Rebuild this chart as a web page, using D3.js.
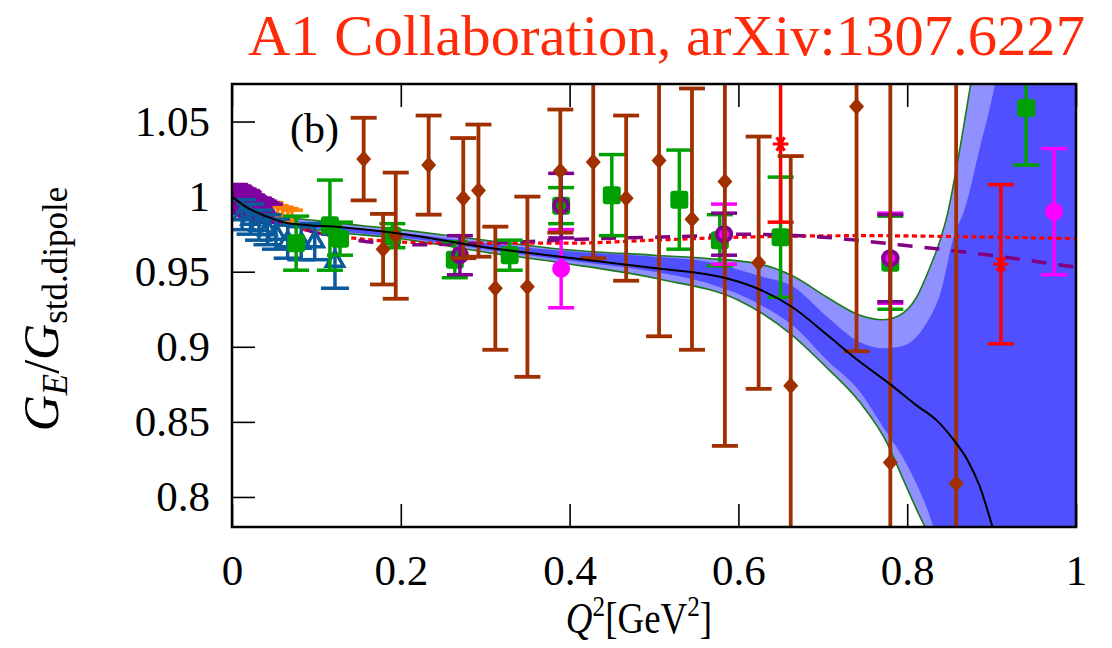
<!DOCTYPE html>
<html>
<head>
<meta charset="utf-8">
<script src="https://cdn.jsdelivr.net/npm/d3@7"></script>
<style>
  body { margin: 0; background: #fff; }
  text { font-family: "Liberation Serif", "Times New Roman", serif; }
</style>
</head>
<body>
<script>
// axis ticks
var xTicks = [0, 0.2, 0.4, 0.6, 0.8, 1],
    xTickLabels = ["0", "0.2", "0.4", "0.6", "0.8", "1"];
var yTicks = [0.8, 0.85, 0.9, 0.95, 1, 1.05],
    yTickLabels = ["0.8", "0.85", "0.9", "0.95", "1", "1.05"];

// fit curve (black) and its bands
var centerQ = [0, 0.017, 0.04, 0.061, 0.091, 0.123, 0.16, 0.223, 0.28, 0.389, 0.507, 0.554, 0.59, 0.626, 0.665, 0.705, 0.744, 0.78, 0.811, 0.835, 0.855, 0.872, 0.886, 0.9, 0.92];
var centerV = [1.0, 0.993, 0.987, 0.983, 0.981, 0.980, 0.978, 0.9735, 0.968, 0.960, 0.952, 0.949, 0.945, 0.938, 0.926, 0.908, 0.890, 0.875, 0.861, 0.851, 0.838, 0.824, 0.807, 0.782, 0.74];

var upOuterQ = [0, 0.02, 0.05, 0.1, 0.2, 0.3, 0.39, 0.5, 0.56, 0.626, 0.665, 0.705, 0.744, 0.771, 0.791, 0.81, 0.827, 0.839, 0.848, 0.858, 0.874, 0.885];
var upOuterV = [1.0, 0.994, 0.988, 0.984, 0.978, 0.971, 0.965, 0.961, 0.959, 0.955, 0.947, 0.933, 0.921, 0.918, 0.921, 0.932, 0.953, 0.971, 0.989, 1.018, 1.071, 1.11];
var upInnerQ = [0, 0.02, 0.05, 0.1, 0.2, 0.3, 0.39, 0.5, 0.56, 0.626, 0.665, 0.705, 0.744, 0.771, 0.791, 0.81, 0.823, 0.84, 0.854, 0.87, 0.885, 0.904, 0.915];
var upInnerV = [1.0, 0.994, 0.987, 0.982, 0.976, 0.969, 0.964, 0.960, 0.957, 0.947, 0.940, 0.920, 0.903, 0.899, 0.900, 0.906, 0.916, 0.937, 0.971, 0.995, 1.03, 1.075, 1.11];
var loInnerQ = [0, 0.02, 0.05, 0.1, 0.2, 0.3, 0.39, 0.5, 0.56, 0.626, 0.665, 0.705, 0.744, 0.771, 0.791, 0.81, 0.831, 0.845];
var loInnerV = [1.0, 0.992, 0.985, 0.979, 0.973, 0.965, 0.958, 0.950, 0.943, 0.928, 0.914, 0.891, 0.870, 0.847, 0.830, 0.81, 0.78, 0.75];
var loOuterQ = [0, 0.02, 0.05, 0.1, 0.2, 0.3, 0.389, 0.507, 0.6, 0.626, 0.661, 0.705, 0.744, 0.776, 0.795, 0.815, 0.821, 0.835];
var loOuterV = [1.0, 0.992, 0.984, 0.978, 0.972, 0.963, 0.956, 0.945, 0.931, 0.923, 0.909, 0.886, 0.863, 0.836, 0.812, 0.787, 0.78, 0.75];

// other fits
var redFitQ = [0, 0.05, 0.1, 0.15, 0.25, 0.4, 0.5, 0.6, 0.75, 0.9, 1.0];
var redFitV = [1.0, 0.985, 0.976, 0.972, 0.969, 0.969, 0.971, 0.973, 0.974, 0.973, 0.972];
var purpleFitQ = [0, 0.05, 0.1, 0.16, 0.22, 0.3, 0.43, 0.56, 0.6, 0.7, 0.79, 0.87, 1.0];
var purpleFitV = [1.0, 0.985, 0.976, 0.970, 0.968, 0.969, 0.972, 0.974, 0.975, 0.973, 0.968, 0.963, 0.953];

// data sets
var orangeQ = [0.003, 0.008, 0.013, 0.018, 0.024, 0.030, 0.036, 0.042, 0.048, 0.054, 0.060, 0.066, 0.071];
var orangeV = [1.000, 0.998, 0.996, 0.995, 0.993, 0.992, 0.991, 0.990, 0.990, 0.989, 0.988, 0.987, 0.986];
var orangeE = [0.008, 0.008, 0.007, 0.007, 0.007, 0.006, 0.006, 0.006, 0.006, 0.005, 0.005, 0.005, 0.005];

var purpQ = [0.003, 0.005, 0.007, 0.009, 0.011, 0.013, 0.015, 0.017, 0.019, 0.021, 0.023, 0.025, 0.027, 0.030, 0.033, 0.036, 0.039, 0.042, 0.046];
var purpV = [1.000, 1.000, 0.999, 0.999, 0.998, 0.997, 0.997, 0.996, 0.996, 0.995, 0.994, 0.994, 0.993, 0.992, 0.992, 0.991, 0.990, 0.990, 0.989];
var purpE = [0.008, 0.008, 0.008, 0.008, 0.008, 0.008, 0.008, 0.008, 0.008, 0.008, 0.007, 0.007, 0.007, 0.007, 0.007, 0.007, 0.007, 0.006, 0.006];

var blueQ = [0.012, 0.022, 0.032, 0.042, 0.052, 0.066, 0.082, 0.098, 0.122];
var blueV = [0.988, 0.985, 0.981, 0.978, 0.975, 0.970, 0.969, 0.970, 0.957];
var blueE = [0.010, 0.010, 0.010, 0.010, 0.010, 0.011, 0.011, 0.012, 0.018];

var greenQ = [0.076, 0.116, 0.128, 0.19, 0.264, 0.329, 0.39, 0.45, 0.53, 0.578, 0.65, 0.78, 0.941];
var greenV = [0.969, 0.981, 0.972, 0.974, 0.958, 0.961, 0.994, 1.001, 0.998, 0.971, 0.973, 0.956, 1.059];
var greenE = [0.018, 0.030, 0.011, 0.008, 0.012, 0.010, 0.012, 0.027, 0.033, 0.017, 0.040, 0.031, 0.038];

var magQ = [0.39, 0.583, 0.78, 0.974];
var magV = [0.952, 0.975, 0.959, 0.990];
var magE = [0.026, 0.020, 0.030, 0.042];

var ringQ = [0.27, 0.39, 0.583, 0.78];
var ringV = [0.961, 0.994, 0.975, 0.959];
var ringE = [0.013, 0.0215, 0.014, 0.029];

var starQ = [0.65, 0.911];
var starV = [1.035, 0.955];
var starE = [0.052, 0.053];

var brownQ = [0.156, 0.179, 0.194, 0.233, 0.274, 0.292, 0.312, 0.35, 0.389, 0.428, 0.467, 0.506, 0.545, 0.584, 0.624, 0.662, 0.74, 0.78, 0.858];
var brownV = [1.025, 0.965, 0.974, 1.021, 0.999, 1.004, 0.939, 0.940, 1.017, 1.023, 0.999, 1.024, 0.985, 1.010, 0.956, 0.874, 1.060, 0.823, 0.809];
var brownE = [0.0275, 0.0235, 0.042, 0.033, 0.040, 0.044, 0.041, 0.060, 0.041, 0.064, 0.055, 0.117, 0.087, 0.176, 0.084, 0.153, 0.163, 0.3, 0.3];

var width = 1112, height = 648;
var plotL = 232, plotR = 1076, plotT = 84, plotB = 527;

var svg = d3.select("body").append("svg")
    .attr("width", width)
    .attr("height", height);

var x = d3.scaleLinear().domain([0, 1]).range([plotL, plotR]);
var y = d3.scaleLinear().domain([0.78, 1.075]).range([plotB, plotT]);

svg.append("defs").append("clipPath").attr("id", "plot")
  .append("rect")
    .attr("x", plotL).attr("y", plotT)
    .attr("width", plotR - plotL).attr("height", plotB - plotT);

//ticks (inward, on all four sides)
function styleAxis(g) {
  g.select(".domain").remove();
  g.selectAll(".tick line").attr("stroke", "#000").attr("stroke-width", 1.6);
  g.selectAll(".tick text").attr("fill", "#000")
    .style("font-family", "'Liberation Serif', serif").style("font-size", "43px");
}
svg.append("g").attr("transform", "translate(0," + plotB + ")")
  .call(d3.axisBottom(x).tickValues(xTicks).tickSize(-23).tickPadding(27)
    .tickFormat(function(d, i) { return xTickLabels[i]; }))
  .call(styleAxis);
svg.append("g").attr("transform", "translate(0," + plotT + ")")
  .call(d3.axisTop(x).tickValues(xTicks).tickSize(-23).tickFormat(""))
  .call(styleAxis);
svg.append("g").attr("transform", "translate(" + plotL + ",0)")
  .call(d3.axisLeft(y).tickValues(yTicks).tickSize(-23).tickPadding(22)
    .tickFormat(function(d, i) { return yTickLabels[i]; }))
  .call(styleAxis);
svg.append("g").attr("transform", "translate(" + plotR + ",0)")
  .call(d3.axisRight(y).tickValues(yTicks).tickSize(-23).tickFormat(""))
  .call(styleAxis);

var plot = svg.append("g").attr("clip-path", "url(#plot)");

var smooth = d3.line().curve(d3.curveMonotoneX);
function pts(qs, vs) { return qs.map(function(q, i) { return [x(q), y(vs[i])]; }); }

//band between an upper and a lower curve, closed through the right side
function bandPath(uq, uv, lq, lv) {
  var lo = pts(lq, lv).reverse();
  return smooth(pts(uq, uv)) +
    "L" + x(1.05) + "," + y(1.2) +
    "L" + x(1.05) + "," + y(0.6) +
    smooth(lo).replace(/^M/, "L") + "Z";
}

plot.append("path")
  .attr("d", bandPath(upOuterQ, upOuterV, loOuterQ, loOuterV))
  .attr("fill", "#9090ff");
plot.append("path")
  .attr("d", bandPath(upInnerQ, upInnerV, loInnerQ, loInnerV))
  .attr("fill", "#5050ff");
[[upOuterQ, upOuterV], [loOuterQ, loOuterV]].forEach(function(c) {
  plot.append("path")
    .attr("d", smooth(pts(c[0], c[1])))
    .attr("fill", "none")
    .attr("stroke", "#1a7a1a")
    .attr("stroke-width", 1.6);
});

//other fits
plot.append("path")
  .attr("d", smooth(pts(redFitQ, redFitV)))
  .attr("fill", "none").attr("stroke", "#ff0000")
  .attr("stroke-width", 3.2).attr("stroke-dasharray", "5,3.5");
plot.append("path")
  .attr("d", smooth(pts(purpleFitQ, purpleFitV)))
  .attr("fill", "none").attr("stroke", "#800080")
  .attr("stroke-width", 3.5).attr("stroke-dasharray", "15,12");

//error bars with caps
function errBars(qs, vs, es, color, capHalf, lw) {
  var g = plot.append("g").attr("stroke", color).attr("stroke-width", lw).attr("fill", "none");
  qs.forEach(function(q, i) {
    var cx = x(q), y1 = y(vs[i] + es[i]), y2 = y(vs[i] - es[i]);
    g.append("line").attr("x1", cx).attr("x2", cx).attr("y1", y1).attr("y2", y2);
    g.append("line").attr("x1", cx - capHalf).attr("x2", cx + capHalf).attr("y1", y1).attr("y2", y1);
    g.append("line").attr("x1", cx - capHalf).attr("x2", cx + capHalf).attr("y1", y2).attr("y2", y2);
  });
}

//orange and purple points at low Q2
errBars(orangeQ, orangeV, orangeE, "#ff7f00", 11, 3.5);
errBars(purpQ, purpV, purpE, "#8000a0", 12, 3.5);
plot.selectAll(".purpdot").data(purpQ).enter().append("circle")
  .attr("cx", function(d) { return x(d); })
  .attr("cy", function(d, i) { return y(purpV[i]); })
  .attr("r", 5).attr("fill", "#8000a0");

//blue triangles
errBars(blueQ, blueV, blueE, "#0a5a9c", 14, 3.5);
plot.selectAll(".tri").data(blueQ).enter().append("path")
  .attr("d", d3.symbol().type(d3.symbolTriangle).size(130))
  .attr("transform", function(d, i) { return "translate(" + x(d) + "," + y(blueV[i]) + ")"; })
  .attr("fill", "none").attr("stroke", "#0a5a9c").attr("stroke-width", 3.5);

//green squares
errBars(greenQ, greenV, greenE, "#00a000", 13, 3.5);
plot.selectAll(".sq").data(greenQ).enter().append("rect")
  .attr("x", function(d) { return x(d) - 9; })
  .attr("y", function(d, i) { return y(greenV[i]) - 9; })
  .attr("width", 18).attr("height", 18).attr("rx", 3)
  .attr("fill", "#00a000");

//magenta circles
errBars(magQ, magV, magE, "#ff00ff", 13, 3.5);
plot.selectAll(".mag").data(magQ).enter().append("circle")
  .attr("cx", function(d) { return x(d); })
  .attr("cy", function(d, i) { return y(magV[i]); })
  .attr("r", 9).attr("fill", "#ff00ff");

//purple open circles
errBars(ringQ, ringV, ringE, "#800090", 13, 3.5);
plot.selectAll(".ring").data(ringQ).enter().append("circle")
  .attr("cx", function(d) { return x(d); })
  .attr("cy", function(d, i) { return y(ringV[i]); })
  .attr("r", 7).attr("fill", "none").attr("stroke", "#800090").attr("stroke-width", 4);

//red stars
errBars(starQ, starV, starE, "#ff0000", 13, 3.5);
plot.selectAll(".star").data(starQ).enter().append("path")
  .attr("d", d3.symbol().type(d3.symbolAsterisk).size(170))
  .attr("transform", function(d, i) { return "translate(" + x(d) + "," + y(starV[i]) + ") rotate(90)"; })
  .attr("fill", "none").attr("stroke", "#ff0000").attr("stroke-width", 3);

//brown diamonds
errBars(brownQ, brownV, brownE, "#a03000", 13, 3.8);
plot.selectAll(".dia").data(brownQ).enter().append("path")
  .attr("d", "M0,-8.5L7.5,0L0,8.5L-7.5,0Z")
  .attr("transform", function(d, i) { return "translate(" + x(d) + "," + y(brownV[i]) + ")"; })
  .attr("fill", "#a03000");

//central fit
plot.append("path")
  .attr("d", smooth(pts(centerQ, centerV)))
  .attr("fill", "none").attr("stroke", "#000").attr("stroke-width", 2);

//frame
svg.append("rect")
  .attr("x", plotL).attr("y", plotT)
  .attr("width", plotR - plotL).attr("height", plotB - plotT)
  .attr("fill", "none").attr("stroke", "#000").attr("stroke-width", 2.5);

//panel tag
svg.append("text").attr("x", 290).attr("y", 143)
  .style("font-size", "42px").text("(b)");

//title
svg.append("text")
  .attr("x", 248).attr("y", 55)
  .attr("textLength", 837).attr("lengthAdjust", "spacingAndGlyphs")
  .attr("fill", "#ff2a0a")
  .style("font-size", "56px")
  .text("A1 Collaboration, arXiv:1307.6227");

//y label
var yl = svg.append("text")
  .attr("transform", "translate(58,309) rotate(-90)")
  .attr("text-anchor", "middle")
  .style("font-size", "50px");
yl.append("tspan").style("font-style", "italic").text("G");
yl.append("tspan").style("font-style", "italic").style("font-size", "35px").attr("dy", 9).text("E");
yl.append("tspan").attr("dy", -9).text("/");
yl.append("tspan").style("font-style", "italic").text("G");
yl.append("tspan").style("font-size", "35px").attr("dy", 9).text("std.dipole");

//x label
var xl = svg.append("text")
  .attr("transform", "translate(639,633) scale(0.84,1)")
  .attr("text-anchor", "middle")
  .style("font-size", "44px");
xl.append("tspan").style("font-style", "italic").text("Q");
xl.append("tspan").style("font-size", "30px").attr("dy", -17).text("2");
xl.append("tspan").attr("dy", 17).text("[GeV");
xl.append("tspan").style("font-size", "30px").attr("dy", -17).text("2");
xl.append("tspan").attr("dy", 17).text("]");
</script>
</body>
</html>
